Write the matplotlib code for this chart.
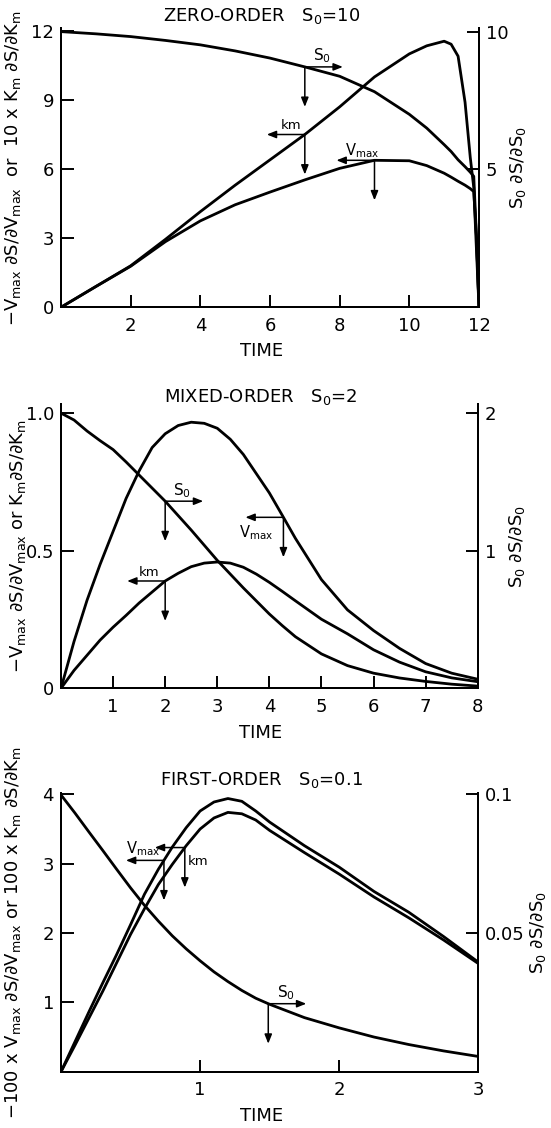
import numpy as np
import matplotlib
matplotlib.use("Agg")
import matplotlib.pyplot as plt

# ---- zero-order, S0 = 10 ----
t_zero = [0, 1, 2, 3, 4, 5, 6, 7, 8, 9, 10, 10.5, 11, 11.2, 11.4, 11.6, 11.75, 11.85, 11.93, 12]
vmax_zero = [0, 0.9, 1.78, 2.85, 3.75, 4.45, 5.0, 5.53, 6.03, 6.38, 6.36, 6.15, 5.82, 5.65, 5.47, 5.3, 5.15, 5.02, 3.0, 0]
km_zero = [0, 0.9, 1.8, 2.95, 4.15, 5.3, 6.4, 7.5, 8.7, 10.0, 11.0, 11.35, 11.55, 11.42, 10.9, 8.9, 6.5, 5.2, 2.4, 0]
s0_zero = [10.0, 9.92, 9.82, 9.68, 9.52, 9.3, 9.04, 8.72, 8.38, 7.82, 7.0, 6.5, 5.9, 5.65, 5.35, 5.1, 4.9, 4.75, 2.5, 0]

# ---- mixed-order, S0 = 2 ----
t_mixed = [0, 0.25, 0.5, 0.75, 1, 1.25, 1.5, 1.75, 2, 2.25, 2.5, 2.75, 3, 3.25, 3.5, 3.75, 4, 4.25, 4.5, 5, 5.5, 6, 6.5, 7, 7.5, 8]
vmax_mixed = [0, 0.17, 0.32, 0.45, 0.57, 0.69, 0.79, 0.875, 0.925, 0.955, 0.967, 0.963, 0.945, 0.905, 0.85, 0.78, 0.71,
              0.628, 0.545, 0.395, 0.285, 0.21, 0.145, 0.09, 0.055, 0.033]
km_mixed = [0, 0.065, 0.12, 0.175, 0.222, 0.265, 0.31, 0.35, 0.39, 0.418, 0.442, 0.455, 0.459, 0.455, 0.44, 0.415, 0.385,
            0.352, 0.318, 0.251, 0.198, 0.14, 0.095, 0.06, 0.038, 0.024]
s0_mixed = [2.0, 1.95, 1.87, 1.8, 1.735, 1.645, 1.55, 1.455, 1.36, 1.255, 1.15, 1.04, 0.93, 0.83, 0.73, 0.635, 0.54,
            0.455, 0.375, 0.25, 0.165, 0.11, 0.075, 0.05, 0.03, 0.016]

# ---- first-order, S0 = 0.1 ----
t_first = [0, 0.1, 0.2, 0.3, 0.4, 0.5, 0.6, 0.7, 0.8, 0.9, 1.0, 1.1, 1.2, 1.3, 1.4, 1.5, 1.75, 2.0, 2.25, 2.5, 2.75, 3.0]
vmax_first = [0, 0.43, 0.86, 1.28, 1.69, 2.12, 2.56, 2.92, 3.24, 3.52, 3.76, 3.89, 3.94, 3.9, 3.76, 3.6,
              3.26, 2.95, 2.6, 2.3, 1.95, 1.58]
km_first = [0, 0.38, 0.77, 1.16, 1.57, 1.98, 2.35, 2.7, 2.99, 3.26, 3.5, 3.66, 3.74, 3.72, 3.63, 3.48,
            3.16, 2.85, 2.52, 2.22, 1.9, 1.56]
s0_first = [0.0998, 0.0933, 0.0865, 0.0798, 0.073, 0.0663, 0.06, 0.0543, 0.049, 0.0443, 0.04, 0.036, 0.0325,
            0.0293, 0.0265, 0.0243, 0.0195, 0.0158, 0.0125, 0.0098, 0.0075, 0.0055]

plt.rcParams["font.family"] = ["DejaVu Sans"]
plt.rcParams["mathtext.fontset"] = "dejavusans"
plt.rcParams["mathtext.default"] = "regular"

LW = 2.0
SPINE = 1.4
FS = 13


def style_axes(ax, axr):
  for a in (ax, axr):
    a.spines["top"].set_visible(False)
    for s in ("left", "right", "bottom"):
      a.spines[s].set_linewidth(SPINE)
  ax.tick_params(direction="in", length=9, width=1.4, labelsize=FS, top=False, right=False)
  ax.tick_params(axis="x", pad=7)
  ax.tick_params(axis="y", pad=5)
  axr.tick_params(direction="in", length=9, width=1.4, labelsize=FS, pad=5)


def pointer(ax, label, t, vals, tx, horiz, lab_off, hlen=38, vlen=40, fs=10):
  # arrow pointing to the axis (left / right) and down to the time axis
  y = np.interp(tx, t, vals)
  kw = dict(arrowstyle="<|-,head_length=0.55,head_width=0.22", lw=1.1, color="k", shrinkA=0, shrinkB=0)
  ax.annotate("", xy=(tx, y), xytext=(horiz * hlen, 0), textcoords="offset pixels", arrowprops=kw)
  ax.annotate("", xy=(tx, y), xytext=(0, -vlen), textcoords="offset pixels", arrowprops=kw)
  ax.annotate(label, xy=(tx, y), xytext=lab_off, textcoords="offset pixels",
              ha="center", va="center", fontsize=fs)


def draw_panel(ax, t, vmax, km, s0, xlim, ylim, ylim_r, title, ylabel, ylab_x, rlab_x, title_y=1.045):
  axr = ax.twinx()
  ax.plot(t, vmax, color="k", lw=LW, solid_joinstyle="round")
  ax.plot(t, km, color="k", lw=LW, solid_joinstyle="round")
  axr.plot(t, s0, color="k", lw=LW, solid_joinstyle="round")
  ax.set_xlim(*xlim)
  ax.set_ylim(*ylim)
  axr.set_ylim(*ylim_r)
  style_axes(ax, axr)
  ax.text(0.48, title_y, title, transform=ax.transAxes, ha="center", va="center", fontsize=FS)
  ax.set_xlabel("TIME", fontsize=FS)
  ax.xaxis.set_label_coords(0.48, -0.125)
  ax.set_ylabel(ylabel, fontsize=FS)
  ax.yaxis.set_label_coords(ylab_x, 0.5)
  axr.set_ylabel(r"$S_0\ \partial S/\partial S_0$", fontsize=FS)
  axr.yaxis.set_label_coords(rlab_x, 0.5)
  return axr


fig = plt.figure(figsize=(5.51, 11.28), dpi=100)

# zero order
ax1 = fig.add_axes([0.1107, 0.7276, 0.7586, 0.2473])
ax1r = draw_panel(ax1, t_zero, vmax_zero, km_zero, s0_zero, (0, 12), (0, 12.11), (0, 10.12),
                  r"ZERO-ORDER   $S_0$=10",
                  r"$-V_{max}\ \partial S/\partial V_{max}$  or  10 x $K_m\ \partial S/\partial K_m$",
                  -0.09, 1.07)
ax1.set_xticks([2, 4, 6, 8, 10, 12])
ax1.set_yticks([0, 3, 6, 9, 12])
ax1r.set_yticks([5, 10])
pointer(ax1r, r"$S_0$", t_zero, s0_zero, 7.0, 1, (17, 11), fs=11)
pointer(ax1, "km", t_zero, km_zero, 7.0, -1, (-14, 9), fs=9.5)
pointer(ax1, r"$V_{max}$", t_zero, vmax_zero, 9.0, -1, (-12, 10), fs=10.5)

# mixed order
ax2 = fig.add_axes([0.1107, 0.3898, 0.7563, 0.2520])
ax2r = draw_panel(ax2, t_mixed, vmax_mixed, km_mixed, s0_mixed, (0, 8), (0, 1.033), (0, 2.066),
                  r"MIXED-ORDER   $S_0$=2",
                  r"$-V_{max}\ \partial S/\partial V_{max}$ or $K_m \partial S/\partial K_m$",
                  -0.08, 1.07, title_y=1.025)
ax2.set_xticks(range(1, 9))
ax2.set_yticks([0, 0.5, 1.0], labels=["0", "0.5", "1.0"])
ax2r.set_yticks([1, 2])
pointer(ax2r, r"$S_0$", t_mixed, s0_mixed, 2.0, 1, (17, 11), fs=11)
pointer(ax2, r"$V_{max}$", t_mixed, vmax_mixed, 4.27, -1, (-27, -15), fs=10.5)
pointer(ax2, "km", t_mixed, km_mixed, 2.0, -1, (-16, 8), fs=9.5)

# first order
ax3 = fig.add_axes([0.1107, 0.0499, 0.7574, 0.2471])
ax3r = draw_panel(ax3, t_first, vmax_first, km_first, s0_first, (0, 3), (0, 4.02), (0, 0.1005),
                  r"FIRST-ORDER   $S_0$=0.1",
                  r"$-$100 x $V_{max}\ \partial S/\partial V_{max}$ or 100 x $K_m\ \partial S/\partial K_m$",
                  -0.09, 1.12)
ax3.set_xticks([1, 2, 3])
ax3.set_yticks([1, 2, 3, 4])
ax3r.set_yticks([0.05, 0.1], labels=["0.05", "0.1"])
pointer(ax3, r"$V_{max}$", t_first, vmax_first, 0.74, -1, (-21, 12), fs=10.5)
pointer(ax3, "km", t_first, km_first, 0.89, -1, (13, -14), hlen=30, fs=9.5)
pointer(ax3r, r"$S_0$", t_first, s0_first, 1.49, 1, (18, 11), fs=11)

fig.savefig("out.png", dpi=100)
